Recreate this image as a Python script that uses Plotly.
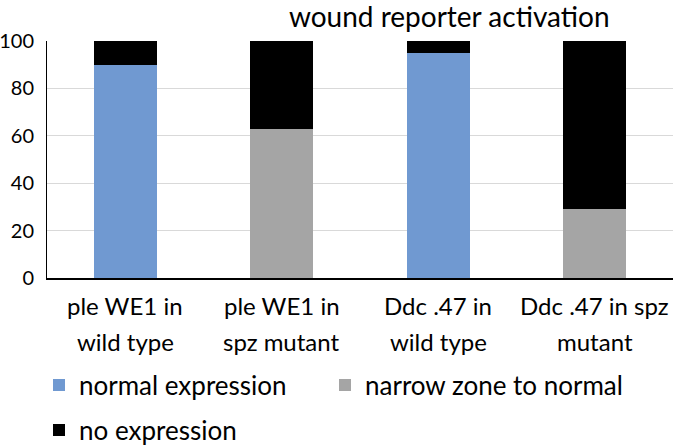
import plotly.graph_objects as go

categories = ["ple WE1 in<br>wild type", "ple WE1 in<br>spz mutant", "Ddc .47 in<br>wild type", "Ddc .47 in spz<br>mutant"]
normal_expression = [90, 0, 95, 0]
narrow_zone = [0, 63, 0, 29]
no_expression = [10, 37, 5, 71]
y_ticks = [0, 20, 40, 60, 80, 100]

FONT = "Lato, 'Open Sans', sans-serif"
W, H = 677, 445
L, R, T, B = 47, 4, 41, 167
PH = H - T - B
PW = W - L - R


def py(ypx):
    return (H - B - ypx) / PH


def px(xpx):
    return (xpx - L) / PW


fig = go.Figure()
fig.add_trace(go.Bar(x=categories, y=normal_expression, name="normal expression",
                     marker=dict(color="#7099d1", line=dict(width=0)), legend="legend"))
fig.add_trace(go.Bar(x=categories, y=narrow_zone, name="narrow zone to normal",
                     marker=dict(color="#a5a5a5", line=dict(width=0)), legend="legend2"))
fig.add_trace(go.Bar(x=categories, y=no_expression, name="no expression",
                     marker=dict(color="#000000", line=dict(width=0)), legend="legend3"))

leg_common = dict(orientation="h", xanchor="left", yanchor="middle",
                  font=dict(size=26, family=FONT, color="#000000"),
                  itemwidth=30, bgcolor="rgba(0,0,0,0)")

fig.update_layout(
    barmode="stack",
    bargap=0.6,
    width=W, height=H,
    margin=dict(l=L, r=R, t=T, b=B, autoexpand=False),
    paper_bgcolor="white", plot_bgcolor="white",
    font=dict(family=FONT, size=20, color="#000000"),
    title=dict(text="wound reporter activation", x=435 / W, xanchor="center", xref="paper",
               y=1 - 17 / H, yanchor="middle", font=dict(size=28, family=FONT, color="#000000")),
    legend=dict(x=px(39), y=py(385), **leg_common),
    legend2=dict(x=px(325), y=py(385), **leg_common),
    legend3=dict(x=px(39), y=py(430), **leg_common),
    showlegend=True,
)

for cat in categories:
    lines = cat.split("<br>")
    for i, line in enumerate(lines):
        fig.add_annotation(x=cat, xref="x", y=py(305 + 36 * i), yref="paper",
                           text=line, showarrow=False, xanchor="center", yanchor="middle",
                           font=dict(size=24, family=FONT, color="#000000"))

fig.update_xaxes(showline=True, linecolor="#000000", linewidth=2, ticks="",
                 showticklabels=False, showgrid=False)
fig.update_yaxes(range=[0, 100], tickvals=y_ticks, showgrid=True, gridcolor="#d9d9d9",
                 gridwidth=1, showline=True, linecolor="#000000", linewidth=1,
                 ticks="", ticklabelstandoff=8, tickfont=dict(size=20, family=FONT, color="#000000"),
                 zeroline=False)

fig.write_html("out.html", config={"displayModeBar": False},
               post_script="document.body.style.margin='0';document.body.style.overflow='hidden';")
